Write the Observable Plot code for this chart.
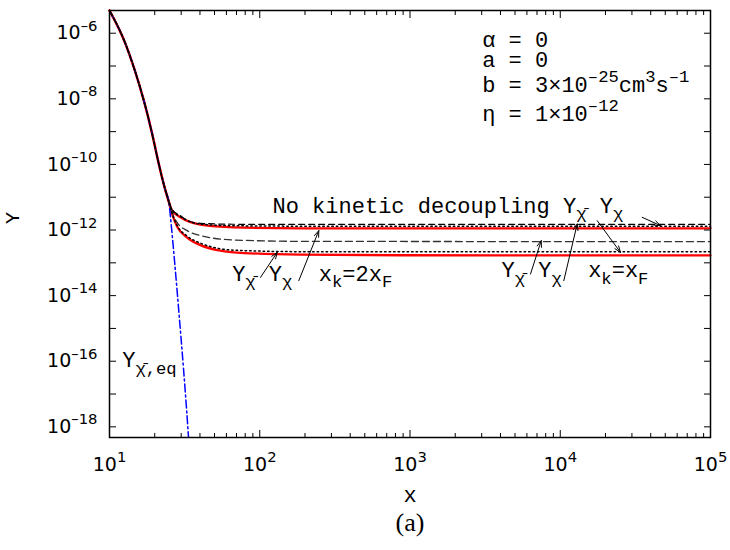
<!DOCTYPE html>
<html><head><meta charset="utf-8">
<script src="https://cdn.jsdelivr.net/npm/d3@7"></script>
<script src="https://cdn.jsdelivr.net/npm/@observablehq/plot@0.6"></script>
<style>
body{margin:0;background:#fff;}
#chart{width:730px;height:505px;}
#cap{width:730px;height:40px;box-sizing:border-box;padding-left:90px;text-align:center;font-family:"Liberation Serif",serif;font-size:26px;line-height:36px;color:#000;}
#chart g[aria-label="x-axis tick label"], #chart g[aria-label="y-axis tick label"]{fill:#000;}
</style></head><body>
<div id="chart"></div>
<div id="cap">(a)</div>
<script>
// ---- data ----
const xCommon = [10, 12.78, 14.51, 16.92, 19.24, 21.29, 23.59, 24.81];
const yCommon = [4.93e-6, 4.75e-7, 9.18e-8, 8.85e-9, 8.53e-10, 1.037e-10, 1.59e-11, 7.34e-12];

const xEqTail = [25.86, 27.08, 28.36, 29.69, 31.09, 32.56, 33.72];
const yEqTail = [1.18e-12, 1.164e-13, 9.96e-15, 7.94e-16, 5.90e-17, 3.56e-18, 3.50e-19];

const xRedUpTail = [26.14, 29.69, 40.34, 66.9, 186.7, 1e5];
const yRedUpTail = [3.90e-12, 2.44e-12, 1.459e-12, 1.208e-12, 1.125e-12, 1.125e-12];

const xDashUpTail = [26.14, 29.69, 32.90, 40.34, 66.9, 186.7, 1e5];
const yDashUpTail = [4.18e-12, 2.75e-12, 1.932e-12, 1.60e-12, 1.50e-12, 1.48e-12, 1.48e-12];

const xDotUpTail = [26.14, 29.69, 40.34, 66.9, 186.7, 1e5];
const yDotUpTail = [4.04e-12, 2.56e-12, 1.511e-12, 1.35e-12, 1.313e-12, 1.313e-12];

const xDashMidTail = [26.14, 28.23, 32.90, 40.34, 66.9, 186.7, 1e5];
const yDashMidTail = [3.39e-12, 1.68e-12, 9.57e-13, 6.74e-13, 4.98e-13, 4.52e-13, 4.42e-13];

const xDotLowTail = [26.14, 28.23, 32.90, 40.34, 52.1, 66.9, 186.7, 1e5];
const yDotLowTail = [3.16e-12, 1.36e-12, 6.51e-13, 3.98e-13, 2.80e-13, 2.43e-13, 2.19e-13, 2.16e-13];

const xRedLowTail = [26.14, 28.23, 32.90, 40.34, 52.1, 66.9, 186.7, 864.8, 1e5];
const yRedLowTail = [3.05e-12, 1.268e-12, 5.86e-13, 3.46e-13, 2.43e-13, 2.09e-13, 1.774e-13, 1.70e-13, 1.689e-13];

// annotations
const annoText = ["No kinetic decoupling Y_{χ̄} Y_{χ}", "Y_{χ̄} Y_{χ}  x_{k}=2x_{F}", "Y_{χ̄} Y_{χ}  x_{k}=x_{F}", "Y_{χ̄,eq}"];
const annoX = [121.6, 65.5, 4064, 12.15];
const annoY = [3.39e-12, 2.86e-14, 3.60e-14, 6.47e-17];

const paramText = ["α = 0", "a = 0", "b = 3×10^{–25}cm^{3}s^{–1}", "η = 1×10^{–12}"];
const paramX = [3023, 3023, 3023, 3023];
const paramY = [3.9e-7, 9.18e-8, 1.585e-8, 2.17e-9];

const arrowX1 = [101.2, 181.9, 6339, 10559, 17618, 35114];
const arrowY1 = [3.60e-14, 2.86e-14, 4.57e-14, 2.86e-14, 1.932e-12, 2.44e-12];
const arrowX2 = [130.6, 247.2, 7469, 12969, 25177, 46476];
const arrowY2 = [2.085e-13, 9.57e-13, 4.74e-13, 1.533e-12, 2.085e-13, 1.36e-12];

// axis ticks
const xMajorTicks = [10, 100, 1000, 10000, 100000];
const xMinorTicks = [20,30,40,50,60,70,80,90,200,300,400,500,600,700,800,900,2000,3000,4000,5000,6000,7000,8000,9000,20000,30000,40000,50000,60000,70000,80000,90000];
const yLabelTicks = [1e-18, 1e-16, 1e-14, 1e-12, 1e-10, 1e-8, 1e-6];
const yAllTicks = [1e-18,1e-17,1e-16,1e-15,1e-14,1e-13,1e-12,1e-11,1e-10,1e-9,1e-8,1e-7,1e-6];

// ---- build tables ----
const pts = (xs, ys) => xs.map((x, i) => ({x, y: ys[i]}));
const eqCurve = pts([...xCommon, ...xEqTail], [...yCommon, ...yEqTail]);
const redUp = pts([...xCommon, ...xRedUpTail], [...yCommon, ...yRedUpTail]);
const dashUp = pts([...xCommon, ...xDashUpTail], [...yCommon, ...yDashUpTail]);
const dotUp = pts([...xCommon, ...xDotUpTail], [...yCommon, ...yDotUpTail]);
const dashMid = pts([...xCommon, ...xDashMidTail], [...yCommon, ...yDashMidTail]);
const dotLow = pts([...xCommon, ...xDotLowTail], [...yCommon, ...yDotLowTail]);
const redLow = pts([...xCommon, ...xRedLowTail], [...yCommon, ...yRedLowTail]);
const annos = annoText.map((t, i) => ({t, x: annoX[i], y: annoY[i]}));
const params = paramText.map((t, i) => ({t, x: paramX[i], y: paramY[i]}));
const arrows = arrowX1.map((x1, i) => ({x1, y1: arrowY1[i], x2: arrowX2[i], y2: arrowY2[i]}));

const expFmt = d => "10^{" + String(Math.round(Math.log10(d))).replace("-", "–") + "}";
const blank = () => "";
const mono = "Liberation Mono";

const chart = Plot.plot({
  width: 730, height: 505,
  marginLeft: 109, marginRight: 20, marginTop: 10, marginBottom: 68,
  style: {fontFamily: "DejaVu Sans", fontSize: "19px", color: "black", background: "white", overflow: "visible"},
  x: {type: "log", domain: [10, 1e5]},
  y: {type: "log", domain: [4.73e-19, 4.93e-6]},
  marks: [
    Plot.line(redUp, {x: "x", y: "y", stroke: "#ff0000", strokeWidth: 2.3, curve: "monotone-x"}),
    Plot.line(redLow, {x: "x", y: "y", stroke: "#ff0000", strokeWidth: 2.3, curve: "monotone-x"}),
    Plot.line(eqCurve, {x: "x", y: "y", stroke: "#0000ff", strokeWidth: 1.5, strokeDasharray: "8,3,2,3", curve: "monotone-x", clip: true}),
    Plot.line(dashMid, {x: "x", y: "y", stroke: "#333", strokeWidth: 1.3, strokeDasharray: "7,4", curve: "monotone-x"}),
    Plot.line(dashUp, {x: "x", y: "y", stroke: "black", strokeWidth: 1.2, strokeDasharray: "6,4", curve: "monotone-x"}),
    Plot.line(dotUp, {x: "x", y: "y", stroke: "black", strokeWidth: 1.5, strokeDasharray: "1.5,3", curve: "monotone-x"}),
    Plot.line(dotLow, {x: "x", y: "y", stroke: "black", strokeWidth: 1.5, strokeDasharray: "1.5,3", curve: "monotone-x"}),
    Plot.arrow(arrows, {x1: "x1", y1: "y1", x2: "x2", y2: "y2", bend: 0, headLength: 10, headAngle: 40, stroke: "black", strokeWidth: 1}),
    Plot.text(annos, {x: "x", y: "y", text: "t", textAnchor: "start", lineAnchor: "bottom", fontFamily: mono, fontSize: 22, fill: "black"}),
    Plot.text(params, {x: "x", y: "y", text: "t", textAnchor: "start", lineAnchor: "bottom", fontFamily: mono, fontSize: 22, fill: "black"}),
    Plot.frame({stroke: "black", strokeWidth: 1.5}),
    Plot.axisX({anchor: "bottom", ticks: xMajorTicks, tickSize: -7, tickFormat: blank, label: null}),
    Plot.axisX({anchor: "top", ticks: xMajorTicks, tickSize: -7, tickFormat: blank, label: null}),
    Plot.axisX({anchor: "bottom", ticks: xMinorTicks, tickSize: -4, tickFormat: blank, label: null}),
    Plot.axisX({anchor: "top", ticks: xMinorTicks, tickSize: -4, tickFormat: blank, label: null}),
    Plot.axisY({anchor: "left", ticks: yAllTicks, tickSize: -7, tickFormat: blank, label: null}),
    Plot.axisY({anchor: "right", ticks: yAllTicks, tickSize: -7, tickFormat: blank, label: null}),
    Plot.axisX({anchor: "bottom", ticks: xMajorTicks, tickSize: 0, tickPadding: 20, tickFormat: expFmt, label: null}),
    Plot.axisY({anchor: "left", ticks: yLabelTicks, tickSize: 0, tickPadding: 12, tickFormat: expFmt, label: null}),
    Plot.text(["Y"], {frameAnchor: "left", dx: -97, rotate: -90, fontFamily: mono, fontSize: 20, fill: "black"}),
    Plot.text(["x"], {frameAnchor: "bottom", dy: 64, fontFamily: mono, fontSize: 22, fill: "black"})
  ]
});
document.getElementById("chart").append(chart);

// rich text: ^{...} superscript, _{...} subscript
const NS = "http://www.w3.org/2000/svg";
function richify(el) {
  const s = el.textContent;
  if (!/[\^_]\{/.test(s)) return;
  const fs = parseFloat(getComputedStyle(el).fontSize) || 16;
  const parts = [];
  let i = 0, cur = "";
  while (i < s.length) {
    if ((s[i] === "^" || s[i] === "_") && s[i + 1] === "{") {
      if (cur) parts.push({t: cur, m: 0});
      cur = "";
      const end = s.indexOf("}", i + 2);
      parts.push({t: s.slice(i + 2, end), m: s[i] === "^" ? 1 : -1});
      i = end + 1;
    } else cur += s[i++];
  }
  if (cur) parts.push({t: cur, m: 0});
  while (el.firstChild) el.removeChild(el.firstChild);
  let level = 0;
  for (const p of parts) {
    const ts = document.createElementNS(NS, "tspan");
    const target = p.m === 1 ? -0.45 * fs : p.m === -1 ? 0.3 * fs : 0;
    const d = target - level;
    if (d !== 0) ts.setAttribute("dy", d.toFixed(2));
    level = target;
    if (p.m) ts.setAttribute("font-size", (0.78 * fs).toFixed(1));
    ts.textContent = p.t;
    el.appendChild(ts);
  }
}
d3.select(chart).selectAll("text").each(function() { richify(this); });
</script></body></html>
